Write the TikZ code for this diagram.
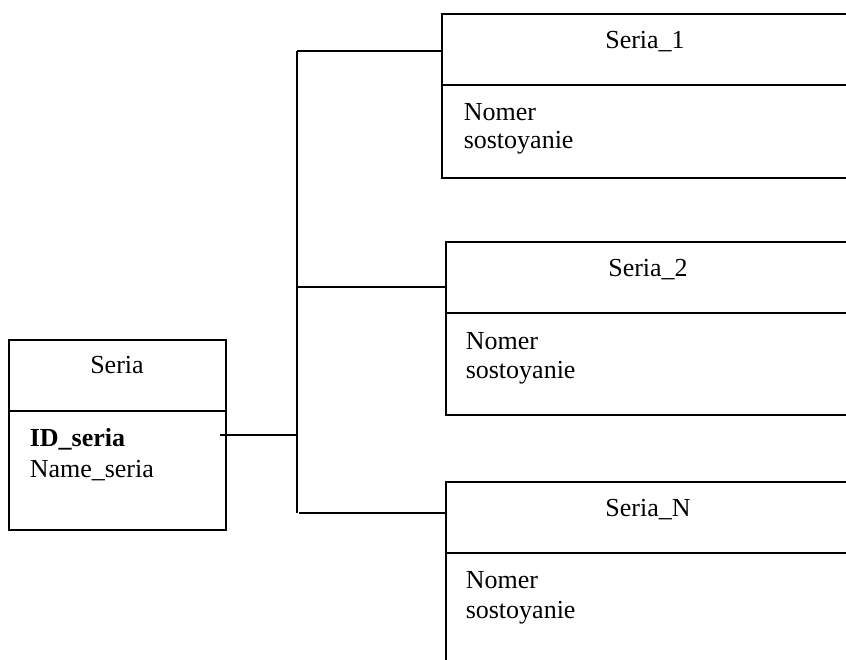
\documentclass[tikz,border=0pt]{standalone}
\usepackage{fontspec}
\setmainfont{Liberation Serif}
\begin{document}
\begin{tikzpicture}[x=1pt,y=-1pt,line width=1.5pt,
  box/.style={draw, inner sep=0pt, anchor=north west},
  ttl/.style={anchor=base, inner sep=0pt, font=\fontsize{26}{30}\selectfont},
  attr/.style={anchor=base west, inner sep=0pt, font=\fontsize{26}{30}\selectfont},
  link/.style={line width=1.5pt}]
\useasboundingbox (0,0) rectangle (846,659);
\clip (0,0) rectangle (846,659);
\fill[white] (0,0) rectangle (846,659);

% main entity
\node[box, minimum width=217pt, minimum height=190pt] (seria) at (8,339) {};
\draw (8,411) -- (225,411);
\node[ttl] (seriat) at (117,373) {Seria};
\node[attr] (id) at (29,446) {\textbf{ID\_seria}};
\node[attr] (nm) at (29,477) {Name\_seria};

% Seria_1
\node[box, minimum width=439pt, minimum height=164pt] (s1) at (441,13) {};
\draw (441,85) -- (880,85);
\node[ttl] (s1t) at (645,48) {Seria\_1};
\node[attr] (s1a) at (463,120) {Nomer};
\node[attr] (s1b) at (463,148) {sostoyanie};

% Seria_2
\node[box, minimum width=435pt, minimum height=173pt] (s2) at (445,241) {};
\draw (445,313) -- (880,313);
\node[ttl] (s2t) at (648,276) {Seria\_2};
\node[attr] (s2a) at (465,349) {Nomer};
\node[attr] (s2b) at (465,378) {sostoyanie};

% Seria_N
\node[box, minimum width=435pt, minimum height=240pt] (sn) at (445,481) {};
\draw (445,553) -- (880,553);
\node[ttl] (snt) at (648,516) {Seria\_N};
\node[attr] (sna) at (465,588) {Nomer};
\node[attr] (snb) at (465,618) {sostoyanie};

% connectors
\coordinate (b1) at (297,51);
\coordinate (b2) at (297,287);
\coordinate (b3) at (297,513);
\coordinate (bm) at (297,435);
\coordinate (src) at (220,435);
\draw[link] (b1) -- (b3);
\draw[link] (b1) -- (s1.west |- b1);
\draw[link] (b2) -- (s2.west |- b2);
\draw[link] ([xshift=2pt]b3) -- (sn.west |- b3);
\draw[link] (src) -- (bm);
\end{tikzpicture}
\end{document}
